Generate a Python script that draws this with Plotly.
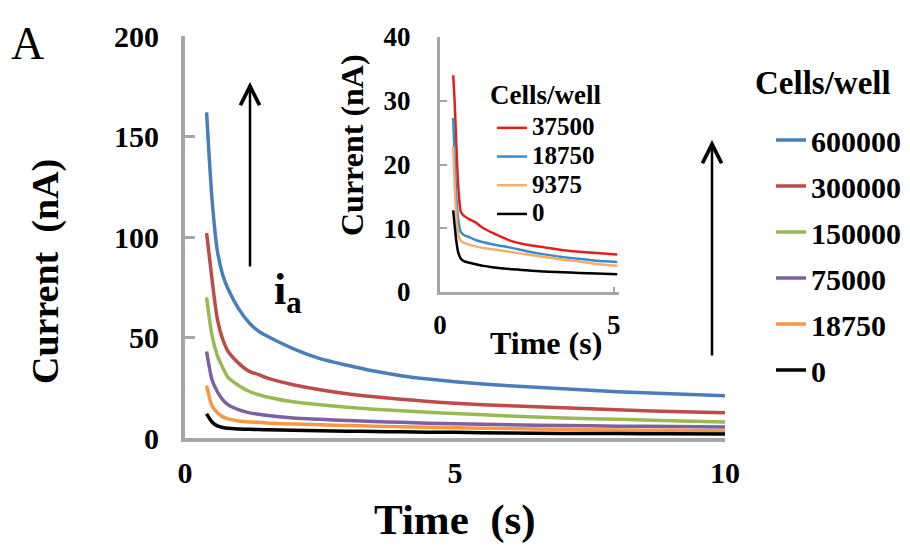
import plotly.graph_objects as go

# ---------------- data ----------------
main_time = [0.4, 0.5, 0.6, 0.7, 0.8, 1.0, 1.2, 1.37, 1.5, 2.0, 2.5, 3.0, 3.5, 4.0, 4.5, 5.0, 6.0, 7.0, 8.0, 9.0, 10.0]
main_labels = ["600000", "300000", "150000", "75000", "18750", "0"]
cur_600000 = [162, 119, 93, 81, 74, 64, 57, 53, 51, 44.5, 39.5, 36.2, 33.3, 31, 29.3, 28, 26, 24.5, 23, 22, 21]
cur_300000 = [102, 79, 59, 49, 43, 37, 33, 31.5, 30, 26.5, 24, 22, 20.5, 19.3, 18.2, 17.3, 16, 15, 14, 13.2, 12.5]
cur_150000 = [70, 51, 41, 35, 30, 26, 23, 21.5, 20.5, 18, 16.5, 15.3, 14.3, 13.5, 12.8, 12.2, 11, 10, 9.3, 8.6, 8]
cur_75000 = [43, 29, 23, 19, 16.5, 14, 12.5, 11.8, 11.3, 10, 9.3, 8.7, 8.2, 7.8, 7.4, 7.1, 6.6, 6.2, 5.9, 5.7, 5.5]
cur_18750 = [26, 16, 12.5, 10.5, 9.5, 8.5, 8, 7.8, 7.5, 7, 6.6, 6.2, 5.9, 5.6, 5.3, 5.1, 4.7, 4.3, 4.0, 3.8, 3.5]
cur_0 = [12, 8, 6, 5.2, 4.8, 4.5, 4.3, 4.2, 4.1, 3.8, 3.6, 3.4, 3.2, 3.05, 2.9, 2.8, 2.5, 2.3, 2.2, 2.1, 2]
main_series = [cur_600000, cur_300000, cur_150000, cur_75000, cur_18750, cur_0]
main_colors = ["#4A7EBB", "#BE4B48", "#98B954", "#7D60A0", "#F79646", "#000000"]

inset_time = [0.38, 0.42, 0.47, 0.52, 0.6, 0.7, 0.85, 1.0, 1.25, 1.5, 2.0, 2.5, 3.0, 3.5, 4.0, 4.5, 5.1]
inset_labels = ["37500", "18750", "9375", "0"]
ins_37500 = [34, 30, 23, 17, 12.6, 11.9, 11.4, 11, 10, 9.3, 8.1, 7.4, 7.0, 6.6, 6.3, 6.1, 5.9]
ins_18750 = [27.3, 21, 15, 11.5, 9.4, 8.9, 8.6, 8.2, 7.8, 7.5, 7.0, 6.4, 5.9, 5.5, 5.2, 4.9, 4.7]
ins_9375 = [22.8, 17, 12, 9.2, 8.0, 7.7, 7.4, 7.2, 6.9, 6.7, 6.3, 5.9, 5.5, 5.1, 4.8, 4.4, 4.1]
ins_0 = [12.8, 10.5, 8, 6.3, 5.2, 4.8, 4.6, 4.4, 4.1, 3.9, 3.6, 3.4, 3.2, 3.1, 3.0, 2.9, 2.8]
inset_series = [ins_37500, ins_18750, ins_9375, ins_0]
inset_colors = ["#E0201B", "#3A8CC8", "#F4AE6E", "#000000"]

main_yticks = [0, 50, 100, 150, 200]
main_xticks = [0, 5, 10]
inset_yticks = [0, 10, 20, 30, 40]
inset_xticks = [0, 5]

# ---------------- figure ----------------
W, H = 910, 548
FONT = "Liberation Serif"
GRAY = "#A6A6A6"

def px(x):
    return x / W

def py(y):
    return (H - y) / H

fig = go.Figure()

for name, ys, col in zip(main_labels, main_series, main_colors):
    fig.add_trace(go.Scatter(
        x=main_time, y=ys, mode="lines", name=name,
        line=dict(color=col, width=3.5, shape="spline", smoothing=0.7),
        legend="legend", legendgroup="m" + name,
        xaxis="x", yaxis="y"))

for name, ys, col in zip(inset_labels, inset_series, inset_colors):
    fig.add_trace(go.Scatter(
        x=inset_time, y=ys, mode="lines",
        name='<span style="font-size:25px">' + name + "</span>",
        line=dict(color=col, width=2.5, shape="spline", smoothing=0.6),
        legend="legend2", legendgroup="i" + name,
        xaxis="x2", yaxis="y2"))

bold = dict(family=FONT, color="black", weight="bold")

fig.update_layout(
    width=W, height=H,
    margin=dict(l=0, r=0, t=0, b=0, autoexpand=False),
    paper_bgcolor="white", plot_bgcolor="white",
    showlegend=True,
    xaxis=dict(domain=[px(185), px(725)], range=[0, 10.0],
               tickvals=main_xticks, ticks="", showgrid=False, zeroline=False,
               showline=True, linecolor=GRAY, linewidth=4,
               tickfont=dict(size=30, **bold), ticklabelstandoff=5,
               anchor="y"),
    yaxis=dict(domain=[py(438), py(36)], range=[0, 200],
               tickvals=main_yticks, ticks="inside", ticklen=10, tickwidth=3, tickcolor=GRAY,
               showgrid=False, zeroline=False,
               showline=True, linecolor=GRAY, linewidth=4,
               tickfont=dict(size=30, **bold), ticklabelstandoff=16,
               anchor="x"),
    xaxis2=dict(domain=[px(440), px(619)], range=[0, 5.15],
                tickvals=inset_xticks, ticks="inside", ticklen=5, tickwidth=2, tickcolor=GRAY,
                showgrid=False, zeroline=False,
                showline=True, linecolor=GRAY, linewidth=3,
                tickfont=dict(size=27, **bold), ticklabelstandoff=7,
                anchor="y2"),
    yaxis2=dict(domain=[py(292), py(37)], range=[0, 40],
                tickvals=inset_yticks, ticks="inside", ticklen=7, tickwidth=2, tickcolor=GRAY,
                showgrid=False, zeroline=False,
                showline=True, linecolor=GRAY, linewidth=3,
                tickfont=dict(size=27, **bold), ticklabelstandoff=21,
                anchor="x2"),
    legend=dict(x=px(771), y=py(114), xanchor="left", yanchor="top",
                font=dict(size=30, **bold), bgcolor="rgba(0,0,0,0)",
                tracegroupgap=4, itemwidth=30),
    legend2=dict(x=px(492), y=py(109), xanchor="left", yanchor="top",
                 font=dict(size=19, **bold), bgcolor="rgba(0,0,0,0)",
                 tracegroupgap=1, itemwidth=30),
)

annotations = [
    dict(text="A", x=px(27), y=py(43), font=dict(family=FONT, size=46, color="black")),
    dict(text="Current  (nA)", x=px(45), y=py(272), textangle=-90, font=dict(size=38, **bold)),
    dict(text="Time  (s)", x=px(455), y=py(520), font=dict(size=43, **bold)),
    dict(text="Current (nA)", x=px(352), y=py(145), textangle=-90, font=dict(size=32, **bold)),
    dict(text="Time (s)", x=px(546), y=py(343), font=dict(size=32, **bold)),
    dict(text="Cells/well", x=px(823), y=py(83), font=dict(size=33, **bold)),
    dict(text="Cells/well", x=px(545), y=py(95), font=dict(size=27, **bold)),
    dict(text="i<sub>a</sub>", x=px(288), y=py(292), font=dict(size=44, **bold)),
]
for a in annotations:
    a.update(xref="paper", yref="paper", showarrow=False, xanchor="center", yanchor="middle")
    fig.add_annotation(**a)

# arrows
for xh, yh, yt in [(250, 82, 268), (712, 140, 357)]:
    fig.add_annotation(x=px(xh), y=py(yh), xref="paper", yref="paper",
                       ax=0, ay=yt - yh, axref="pixel", ayref="pixel",
                       text="", showarrow=True, arrowhead=5, arrowsize=1.5,
                       arrowwidth=2.5, arrowcolor="black")

fig.write_html("out.html")
